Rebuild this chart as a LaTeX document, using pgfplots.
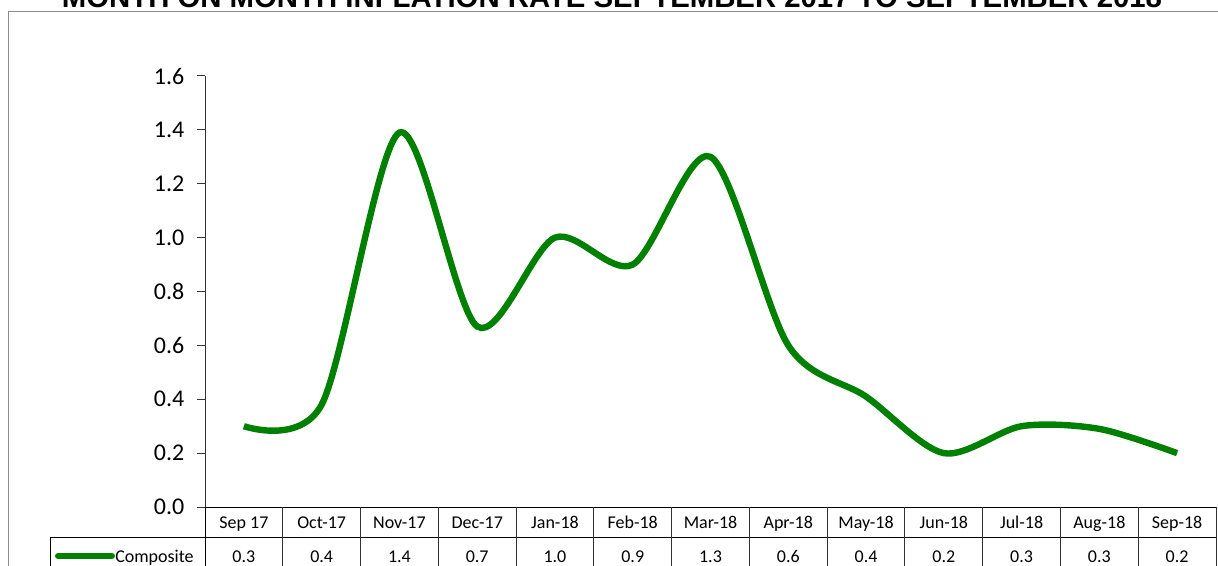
\documentclass[border=0pt]{standalone}
\usepackage{fontspec}
\setmainfont{Carlito}
\newfontfamily\titlefont{Liberation Sans}
\usepackage{pgfplots}
\pgfplotsset{compat=1.18}
\definecolor{lgreen}{RGB}{0,128,0}
\begin{document}
\begin{tikzpicture}
\useasboundingbox (0pt,0pt) rectangle (913.5pt,423.75pt);
\begin{scope}[x=0.75pt,y=0.75pt]
% outer frame
\draw[black!45, line width=0.75pt] (8,-20) -- (8,553) -- (1240,553);
% title (partially cut off at top, as in the reference)
\node[font=\titlefont\bfseries\fontsize{22}{26}\selectfont, anchor=base, inner sep=0] at (612,557) {MONTH ON MONTH INFLATION RATE SEPTEMBER 2017 TO SEPTEMBER 2018};
\end{scope}
\begin{axis}[
  at={(153.75pt,43.5pt)}, anchor=south west,
  scale only axis,
  width=758.25pt, height=323.25pt,
  xmin=-0.5, xmax=12.5,
  ymin=0, ymax=1.6,
  axis lines*=left,
  axis line style={black!80, line width=0.75pt},
  xtick=\empty,
  ytick={0,0.2,0.4,0.6,0.8,1.0,1.2,1.4,1.6},
  tick align=outside,
  major tick length=6pt,
  tick style={black!80, line width=0.75pt},
  yticklabel style={font=\fontsize{18}{20}\selectfont, /pgf/number format/fixed, /pgf/number format/fixed zerofill, /pgf/number format/precision=1, /pgf/number format/assume math mode=true, xshift=-6pt},
  clip=false,
]
\addplot[color=lgreen, line width=4.8pt, smooth, tension=0.5] coordinates {
(0,0.30) (1,0.38) (2,1.39) (3,0.67) (4,1.00) (5,0.90) (6,1.30) (7,0.60) (8,0.41) (9,0.20) (10,0.30) (11,0.29) (12,0.20)
};
\end{axis}
\begin{scope}[x=0.75pt,y=0.75pt]
% data table
\draw[black, line width=0.75pt] (205,58) -- (1216,58);
\draw[black, line width=0.75pt] (50,28) -- (1216,28);
\draw[black, line width=0.75pt] (205,58) -- (205,-10);
\draw[black, line width=0.75pt] (50,28) -- (50,-10);
\foreach \k in {1,...,13} {
  \draw[black!80, line width=0.75pt] ({205+\k*77.77},58) -- ({205+\k*77.77},-10);
}
\foreach \lab [count=\i from 0] in {Sep 17,Oct-17,Nov-17,Dec-17,Jan-18,Feb-18,Mar-18,Apr-18,May-18,Jun-18,Jul-18,Aug-18,Sep-18} {
  \node[font=\fontsize{13.5}{15}\selectfont, inner sep=0, anchor=base] at ({205+(\i+0.5)*77.77},37) {\lab};
}
\foreach \v [count=\i from 0] in {0.3,0.4,1.4,0.7,1.0,0.9,1.3,0.6,0.4,0.2,0.3,0.3,0.2} {
  \node[font=\fontsize{13.5}{15}\selectfont, inner sep=0, anchor=base] at ({205+(\i+0.5)*77.77},3) {\v};
}
\draw[lgreen, line width=4.5pt, line cap=round] (58,9) -- (112,9);
\node[font=\fontsize{13.5}{15}\selectfont, anchor=base west, inner sep=0] at (115,3) {Composite};
\end{scope}
\end{tikzpicture}
\end{document}
